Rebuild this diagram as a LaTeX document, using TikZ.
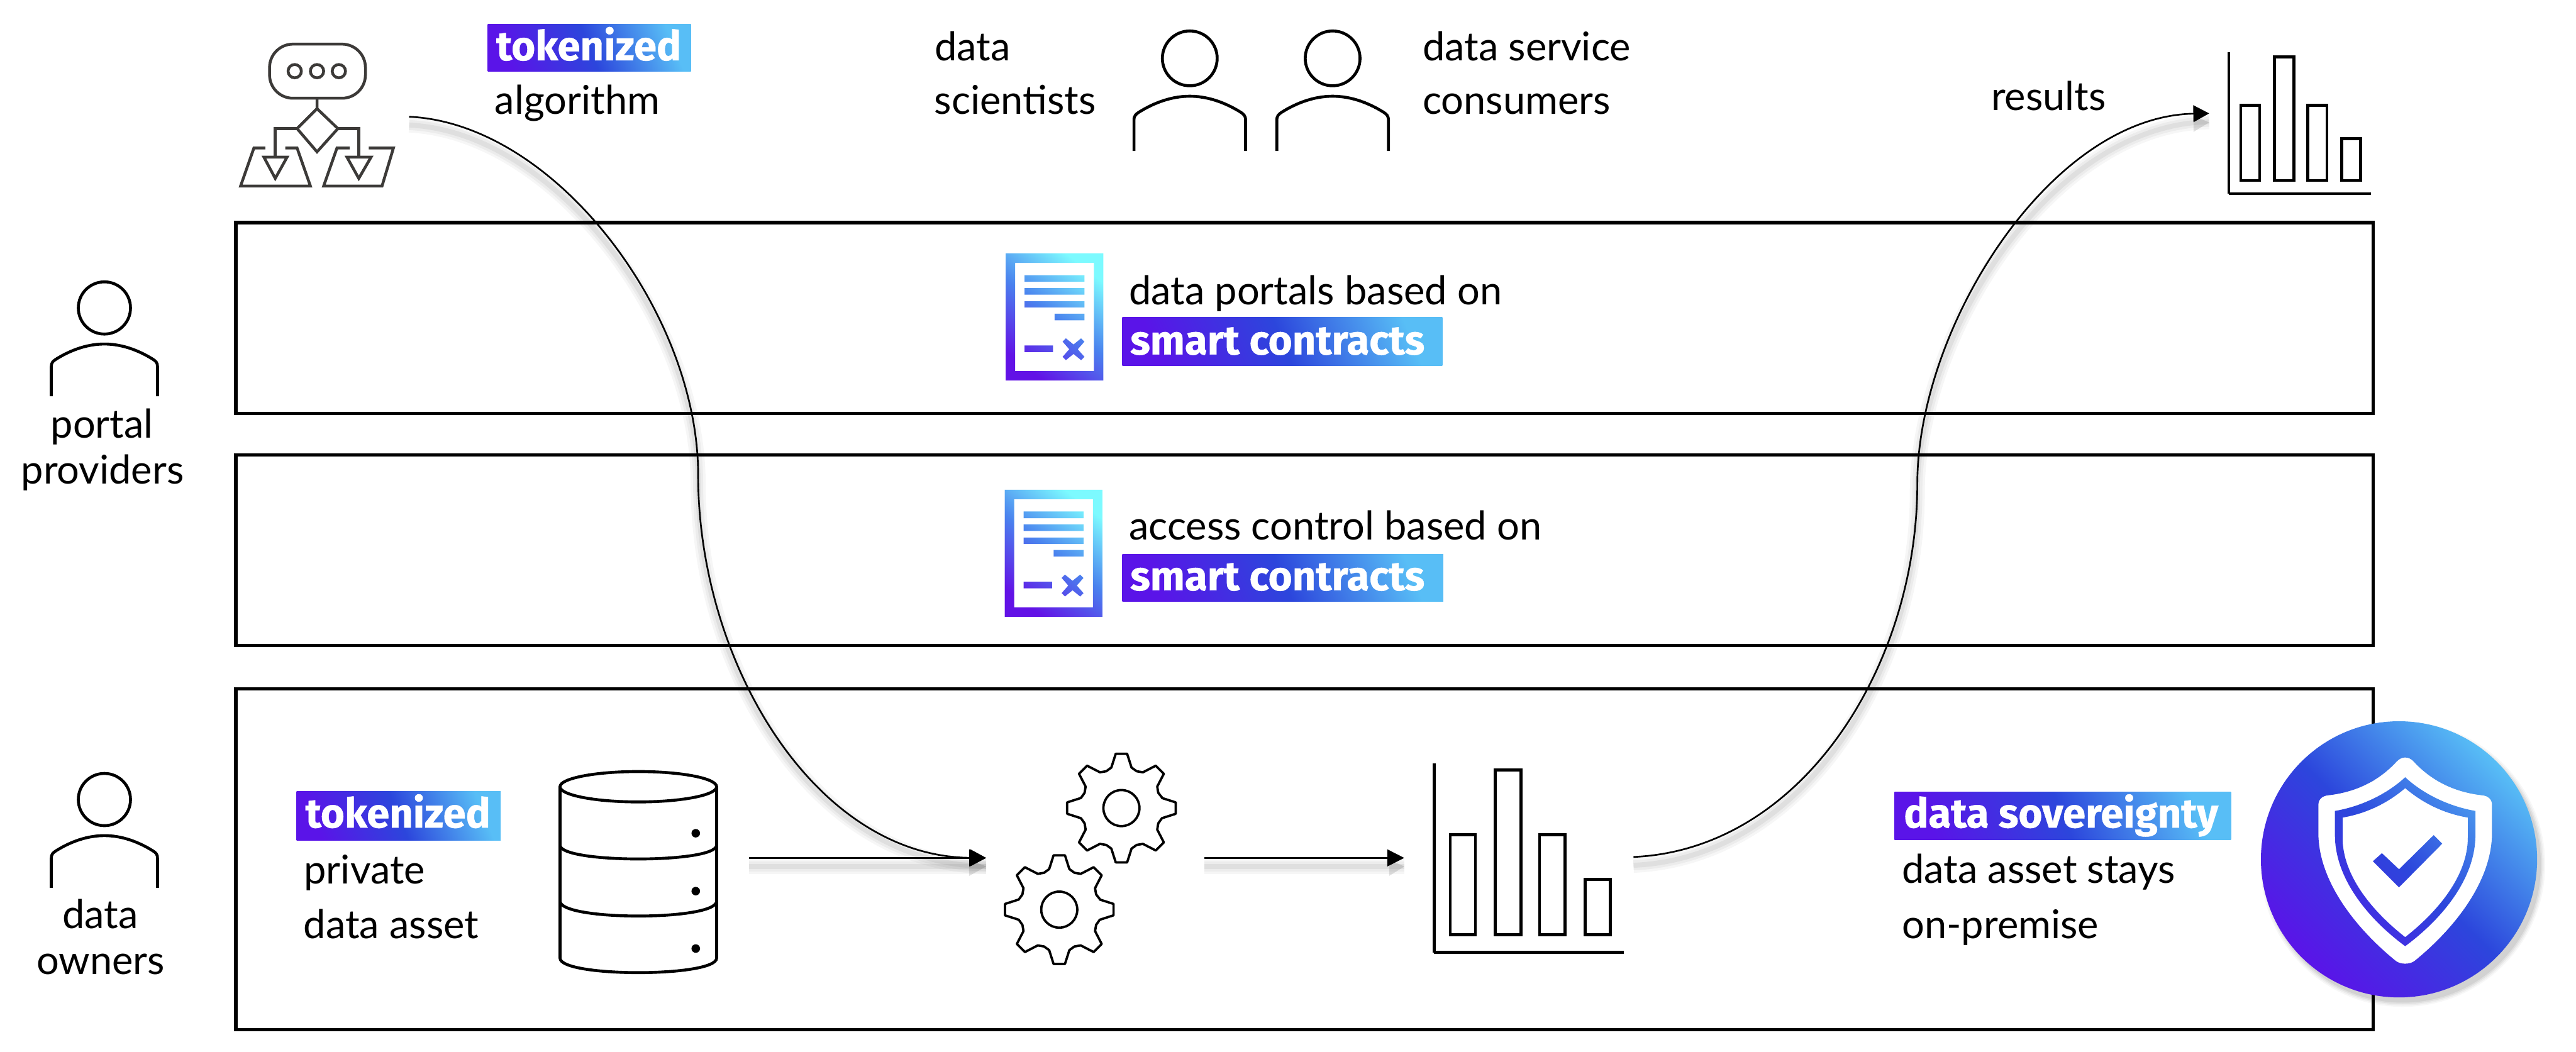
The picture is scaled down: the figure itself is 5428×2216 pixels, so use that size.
\documentclass[tikz,border=0pt]{standalone}
\usepackage{fontspec}
\setmainfont{Lato}
\newfontfamily\tagface{Fira Sans}[BoldFeatures={FakeBold=0.7}]
\usetikzlibrary{arrows.meta}
\definecolor{gpurple}{HTML}{5A14E8}
\definecolor{gblue}{HTML}{2C46DC}
\definecolor{glight}{HTML}{58BEF6}
\definecolor{dpurple}{HTML}{6212E6}
\definecolor{dblue}{HTML}{4A82EE}
\definecolor{dcyan}{HTML}{7CFAFF}
\definecolor{algo}{HTML}{3C3A38}
\tikzset{
  panel/.style={draw=black,line width=2pt,fill=white},
  txt/.style={anchor=base west,inner sep=0pt,xshift=-1.4pt,font=\fontsize{23.8}{26}\selectfont,text=black},
  ctxt/.style={anchor=base,inner sep=0pt,font=\fontsize{23.8}{26}\selectfont,text=black},
  tagtxt/.style={anchor=base west,inner sep=0pt,font=\tagface\bfseries\fontsize{24.6}{26}\selectfont,text=white},
  taggrad/.style={top color=glight,bottom color=gpurple,middle color=gblue,shading angle=-68},
  discgrad/.style={top color=glight,bottom color=gpurple,middle color=gblue,shading angle=-45},
  docgrad/.style={top color=dcyan,bottom color=dpurple,middle color=dblue,shading angle=-38},
  icon/.style={draw=black,line width=1.75pt},
  thinicon/.style={draw=black,line width=1.4pt},
  algoicon/.style={draw=algo,line width=1.7pt},
  softline/.style={
    preaction={draw=black,tips=never,opacity=.035,line width=9pt,transform canvas={yshift=-5pt}},
    preaction={draw=black,tips=never,opacity=.04,line width=6pt,transform canvas={yshift=-5pt}},
    preaction={draw=black,tips=never,opacity=.05,line width=3pt,transform canvas={yshift=-5pt}}},
  flowline/.style={softline,draw=black,line width=1.3pt,-{Triangle[length=10.2pt,width=10pt]}},
  curveline/.style={softline,draw=black,line width=1pt,-{Triangle[length=9.5pt,width=10pt]}},
  headshade/.style={fill=black,opacity=.12},
}
\newcommand{\personicon}[3]{%
  \begin{scope}[shift={(#1,#2)},xscale=#3,yscale=#3]
    \draw[icon] (0,0) circle (55);
    \draw[icon,line cap=butt] (-112,186) -- (-112,124)
      .. controls (-112,115) and (-108,112) .. (-102,108)
      .. controls (-70,88) and (-35,76) .. (0,76)
      .. controls (35,76) and (70,88) .. (102,108)
      .. controls (108,112) and (112,115) .. (112,124) -- (112,186);
  \end{scope}}
\newcommand{\gearicon}[2]{%
  \begin{scope}[shift={(#1,#2)}]
    \draw[thinicon,line join=round] (-15:88)
      \foreach \a in {0,45,...,315}{ -- (\a-14:88) -- (\a-6:115) -- (\a+6:115) -- (\a+14:88) -- (\a+22.5:84) } -- cycle;
    \draw[thinicon] (0,0) circle (38);
  \end{scope}}
\newcommand{\charticon}[3]{%
  \begin{scope}[shift={(#1,#2)},xscale=#3,yscale=#3]
    \draw[icon,line width=1.6pt] (0,-398) -- (0,0);
    \draw[icon] (0,0) -- (399,0);
    \draw[icon] (34,-37) rectangle (87,-248);
    \draw[icon] (129,-37) rectangle (183,-384);
    \draw[icon] (222,-37) rectangle (276,-248);
    \draw[icon] (318,-37) rectangle (371,-154);
  \end{scope}}
\newcommand{\docicon}[2]{%
  \begin{scope}[shift={(#1,#2)}]
    \shade[docgrad,even odd rule]
      (0,0) rectangle (206,268)
      (20,20) rectangle (186,248)
      (40,46) rectangle (166,60)
      (40,73) rectangle (166,87)
      (40,101) rectangle (166,114)
      (103,127) rectangle (166,141)
      (40,194) rectangle (100,208)
      (120,186) -- (127,179) -- (143,192) -- (159,179) -- (166,186) -- (152,202) -- (166,218) -- (159,225) -- (143,212) -- (127,225) -- (120,218) -- (134,202) -- cycle;
  \end{scope}}
\begin{document}
\begin{tikzpicture}[x=0.01cm,y=-0.01cm]
\useasboundingbox (0,0) rectangle (5428,2216);
\fill[white] (0,0) rectangle (5428,2216);

% panels
\draw[panel] (497,469) rectangle (5001,871);
\draw[panel] (497,959) rectangle (5001,1360);
\draw[panel] (497,1452) rectangle (5001,2170);

% connector end points
\coordinate (algoOut) at (862,246);
\coordinate (leftMid) at (1471,1000);
\coordinate (gearIn) at (2078,1808);
\coordinate (dbOut) at (1578,1808);
\coordinate (gearOut) at (2538,1808);
\coordinate (chartIn) at (2959,1808);
\coordinate (chartOut) at (3442,1806);
\coordinate (rightMid) at (4040,1020);
\coordinate (resultsIn) at (4655,239);

% head shadows
\fill[headshade] (2042,1812) -- (2078,1826) -- (2042,1846) -- cycle;
\fill[headshade] (2927,1812) -- (2959,1826) -- (2927,1846) -- cycle;
\fill[headshade] (4622,244) -- (4655,258) -- (4622,278) -- cycle;

% connectors
\draw[curveline] (algoOut) .. controls (1170,260) and (1471,660) .. (leftMid)
  .. controls (1471,1400) and (1720,1806) .. (gearIn);
\draw[flowline] (dbOut) -- (gearIn);
\draw[flowline] (gearOut) -- (chartIn);
\draw[curveline] (chartOut) .. controls (3800,1790) and (4040,1400) .. (rightMid)
  .. controls (4040,690) and (4320,245) .. (resultsIn);

% algorithm icon
\draw[algoicon,rounded corners=14pt] (568,93) rectangle (770,207);
\draw[algoicon] (621,150) circle (14) (668,150) circle (14) (714,150) circle (14);
\draw[algoicon] (668,207) -- (668,229) -- (712,271) -- (668,320) -- (626,271) -- (668,229);
\draw[algoicon] (626,271) -- (580,271) -- (580,331) (712,271) -- (756,271) -- (756,331);
\draw[algoicon,line join=miter] (556,331) -- (605,331) -- (580,376) -- cycle;
\draw[algoicon,line join=miter] (731,331) -- (782,331) -- (756,376) -- cycle;
\draw[algoicon] (559,312) -- (535,312) -- (507,392) -- (654,392) -- (626,312) -- (601,312);
\draw[algoicon] (737,312) -- (710,312) -- (682,392) -- (805,392) -- (829,312) -- (777,312);

% tags
\shade[taggrad] (1028,51) rectangle (1456,151);
\node[tagtxt] (tagAlgo) at (1045,127) {tokenized};
\node[txt] (algoTxt) at (1047,241) {algorithm};
\shade[taggrad] (625,1668) rectangle (1055,1771);
\node[tagtxt] (tagData) at (643,1744) {tokenized};
\node[txt] (privTxt) at (645,1862) {private};
\node[txt] (assetTxt) at (644,1978) {data asset};
\shade[taggrad] (3992,1669) rectangle (4701,1770);
\node[tagtxt] (tagSov) at (4011,1744) {data sovereignty};
\node[txt] (staysTxt) at (4012,1861) {data asset stays};
\node[txt] (onpremTxt) at (4012,1978) {on-premise};

% top row
\node[txt] (sciA) at (1974,128) {data};
\node[txt] (sciB) at (1973,241) {scientists};
\node[txt] (conA) at (3002,128) {data service};
\node[txt] (conB) at (3002,241) {consumers};
\node[txt] (resTxt) at (4200,232) {results};
\personicon{2507}{123}{1.05}
\personicon{2808}{123}{1.05}
\charticon{4696}{408}{0.75}

% left column
\personicon{220}{649}{1}
\node[ctxt] (portA) at (215,923) {portal};
\node[ctxt] (portB) at (216,1020) {providers};
\personicon{220}{1685}{1}
\node[ctxt] (ownA) at (211,1957) {data};
\node[ctxt] (ownB) at (212,2053) {owners};

% contract panels
\docicon{2119}{534}
\node[txt] (portalTxt) at (2383,642) {data portals based on};
\shade[taggrad] (2365,669) rectangle (3039,771);
\node[tagtxt] (tagSm1) at (2381,747) {smart contracts};
\docicon{2117}{1032}
\node[txt] (accessTxt) at (2383,1138) {access control based on};
\shade[taggrad] (2365,1168) rectangle (3041,1268);
\node[tagtxt] (tagSm2) at (2381,1244) {smart contracts};

% database
\draw[icon] (1345,1658) ellipse (165 and 32);
\draw[icon] (1180,1658) -- (1180,2019) .. controls (1180,2060) and (1510,2060) .. (1510,2019) -- (1510,1658);
\draw[icon] (1180,1781) .. controls (1180,1820) and (1510,1820) .. (1510,1781);
\draw[icon] (1180,1899) .. controls (1180,1941) and (1510,1941) .. (1510,1899);
\fill[black] (1466,1756) circle (9) (1466,1878) circle (9) (1466,1999) circle (9);

% gears and chart
\gearicon{2363}{1703}
\gearicon{2232}{1917}
\charticon{3022}{2007}{1}

% shield disc
\foreach \r/\o in {300/.03,297/.04,294/.05,291/.06}{
  \fill[black,opacity=\o] (5063,1822) circle (\r);
}
\fill[white,shift={(5068,0)}] (19,1606) .. controls (8,1593) and (-8,1593) .. (-19,1606)
  .. controls (-60,1650) and (-110,1670) .. (-162,1676)
  .. controls (-175,1677) and (-183,1685) .. (-183,1696) -- (-183,1755)
  .. controls (-183,1860) and (-100,1960) .. (-20,2025)
  .. controls (-10,2033) and (10,2033) .. (20,2025)
  .. controls (100,1960) and (183,1860) .. (183,1755) -- (183,1696)
  .. controls (183,1685) and (175,1677) .. (162,1676)
  .. controls (110,1670) and (60,1650) .. (19,1606) -- cycle;
\shade[discgrad,even odd rule,shift={(5068,0)}]
  (-13,1811) circle (291)
  (19,1606) .. controls (8,1593) and (-8,1593) .. (-19,1606)
  .. controls (-60,1650) and (-110,1670) .. (-162,1676)
  .. controls (-175,1677) and (-183,1685) .. (-183,1696) -- (-183,1755)
  .. controls (-183,1860) and (-100,1960) .. (-20,2025)
  .. controls (-10,2033) and (10,2033) .. (20,2025)
  .. controls (100,1960) and (183,1860) .. (183,1755) -- (183,1696)
  .. controls (183,1685) and (175,1677) .. (162,1676)
  .. controls (110,1670) and (60,1650) .. (19,1606) -- cycle
  (0,1638) .. controls (-40,1675) and (-95,1700) .. (-148,1709) -- (-148,1760)
  .. controls (-148,1850) and (-80,1935) .. (0,1994)
  .. controls (80,1935) and (148,1850) .. (148,1760) -- (148,1709)
  .. controls (95,1700) and (40,1675) .. (0,1638) -- cycle
  (0,1661) .. controls (-40,1695) and (-85,1715) .. (-132,1723) -- (-132,1765)
  .. controls (-132,1845) and (-70,1920) .. (0,1975)
  .. controls (70,1920) and (132,1845) .. (132,1765) -- (132,1723)
  .. controls (85,1715) and (40,1695) .. (0,1661) -- cycle
  (-68,1815) -- (-49,1798) -- (-13,1832) -- (60,1760) -- (78,1778) -- (-13,1870) -- cycle;
\end{tikzpicture}
\end{document}
